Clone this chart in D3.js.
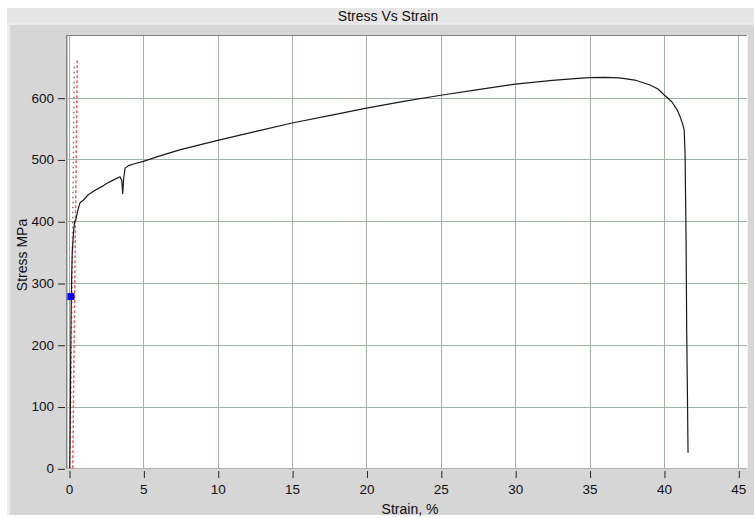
<!DOCTYPE html>
<html>
<head>
<meta charset="utf-8">
<script src="https://cdn.jsdelivr.net/npm/d3@7/dist/d3.min.js"></script>
<style>
  html, body { margin: 0; padding: 0; background: #fff; }
  svg { display: block; font-family: "Liberation Sans", Arial, sans-serif; }
</style>
</head>
<body>
<svg id="chart" width="754" height="518"></svg>
<script>
// ---- Data ----
const title = "Stress Vs Strain";
const xLabel = "Strain, %";
const yLabel = "Stress MPa";
const xTicks = [0, 5, 10, 15, 20, 25, 30, 35, 40, 45];
const yTicks = [0, 100, 200, 300, 400, 500, 600];

const strain = [0.05,0.08,0.10,0.12,0.15,0.18,0.22,0.30,0.37,0.45,0.60,0.74,0.96,1.30,1.75,2.20,2.53,3.00,3.43,3.55,3.61,3.68,3.77,4.00,4.40,5.0,6.0,7.5,10,12.5,15,17.5,20,22.5,25,27.5,30,32.5,34,35,36,37,38.05,39.06,39.6,39.97,40.53,40.9,41.09,41.25,41.36,41.42,41.49,41.53,41.58,41.62];
const stress = [0,60,130,200,260,310,350,380,399,402,418,430,434,443,450,456,461,467,472,466,445,470,486,490,493,497,505,516,531,545,559,571,583,594,604,613,622,628,631,632.5,633,632,628.6,620.5,614,605.5,593.5,580,569,558,548,510,369,224,119,25];

// elastic modulus line (gray dotted) and 0.2% offset line (red dashed)
const elasticStrain = [0.07, 0.36];
const elasticStress = [0, 655];
const offsetStrain = [0.25, 0.56];
const offsetStress = [0, 663];
// marker
const markerStrain = [0.13];
const markerStress = [278];

// ---- Layout ----
const svg = d3.select("#chart");
const plot = { left: 66, top: 35, right: 747, bottom: 468 };

const x = d3.scaleLinear().domain([0, 45]).range([69, 738.3]);
const y = d3.scaleLinear().domain([0, 600]).range([468.3, 97.7]);

// title band
svg.append("rect").attr("x", 7).attr("y", 8).attr("width", 747).attr("height", 15).attr("fill", "#e6e6e6");
svg.append("text").attr("x", 388).attr("y", 20.5).attr("text-anchor", "middle")
  .attr("font-size", 14).attr("fill", "#111").text(title);

// panel
svg.append("rect").attr("x", 7).attr("y", 23).attr("width", 747).attr("height", 492).attr("fill", "#ececec");
svg.append("rect").attr("x", 10).attr("y", 25).attr("width", 744).attr("height", 490).attr("fill", "#d6d6d6");

// plot area
svg.append("rect").attr("x", plot.left).attr("y", plot.top)
  .attr("width", plot.right - plot.left).attr("height", plot.bottom - plot.top)
  .attr("fill", "#fff");

// grid
const grid = svg.append("g").attr("stroke", "#a3b3a3").attr("stroke-width", 1);
grid.selectAll("line.v").data(xTicks).join("line")
  .attr("x1", d => Math.round(x(d)) + 0.5).attr("x2", d => Math.round(x(d)) + 0.5)
  .attr("y1", plot.top).attr("y2", plot.bottom);
grid.selectAll("line.h").data(yTicks).join("line")
  .attr("y1", d => Math.round(y(d)) + 0.5).attr("y2", d => Math.round(y(d)) + 0.5)
  .attr("x1", plot.left).attr("x2", plot.right);

// plot borders (inset look)
svg.append("line").attr("x1", plot.left + 0.5).attr("x2", plot.left + 0.5).attr("y1", plot.top).attr("y2", plot.bottom + 1).attr("stroke", "#808080");
svg.append("line").attr("x1", plot.left).attr("x2", plot.right).attr("y1", plot.top + 0.5).attr("y2", plot.top + 0.5).attr("stroke", "#808080");
svg.append("line").attr("x1", plot.left + 1.5).attr("x2", plot.left + 1.5).attr("y1", plot.top + 1).attr("y2", plot.bottom).attr("stroke", "#c8c8c8");
svg.append("line").attr("x1", plot.right + 0.5).attr("x2", plot.right + 0.5).attr("y1", plot.top).attr("y2", plot.bottom + 1).attr("stroke", "#f4f4f4");
svg.append("line").attr("x1", plot.left).attr("x2", plot.right).attr("y1", plot.bottom + 0.5).attr("y2", plot.bottom + 0.5).attr("stroke", "#b0b0b0");

// axes
const xAxis = svg.append("g").attr("transform", `translate(0,${plot.bottom + 3})`)
  .call(d3.axisBottom(x).tickValues(xTicks).tickSize(7).tickPadding(6).tickFormat(d3.format("d")));
xAxis.select(".domain").remove();
xAxis.selectAll(".tick line").attr("stroke", "#222").attr("transform", "translate(0.5,0)");
xAxis.selectAll(".tick text").attr("font-size", 13.5).attr("fill", "#111")
  .attr("font-family", "'Liberation Sans', Arial, sans-serif");

const yAxis = svg.append("g").attr("transform", `translate(${plot.left - 1},0)`)
  .call(d3.axisLeft(y).tickValues(yTicks).tickSize(7).tickPadding(4).tickFormat(d3.format("d")));
yAxis.select(".domain").remove();
yAxis.selectAll(".tick line").attr("stroke", "#222").attr("transform", "translate(0,0.5)");
yAxis.selectAll(".tick text").attr("font-size", 13.5).attr("fill", "#111")
  .attr("font-family", "'Liberation Sans', Arial, sans-serif");

// axis titles
svg.append("text").attr("x", 410).attr("y", 514).attr("text-anchor", "middle")
  .attr("font-size", 14).attr("fill", "#111").text(xLabel);
svg.append("text").attr("transform", "translate(27,255) rotate(-90)").attr("text-anchor", "middle")
  .attr("font-size", 14).attr("fill", "#111").text(yLabel);

// clip to plot
svg.append("clipPath").attr("id", "clip").append("rect")
  .attr("x", plot.left + 1).attr("y", plot.top + 1)
  .attr("width", plot.right - plot.left - 1).attr("height", plot.bottom - plot.top);
const g = svg.append("g").attr("clip-path", "url(#clip)");

const line = d3.line().x(d => x(d[0])).y(d => y(d[1]));

// elastic gray dotted
g.append("path").datum(d3.zip(elasticStrain, elasticStress)).attr("d", line)
  .attr("fill", "none").attr("stroke", "#7a7a7a").attr("stroke-width", 1.5).attr("stroke-dasharray", "1.5,3.5");

// offset red dashed
g.append("path").datum(d3.zip(offsetStrain, offsetStress)).attr("d", line)
  .attr("fill", "none").attr("stroke", "#ff5a5a").attr("stroke-width", 1.5).attr("stroke-dasharray", "3,2");

// main curve
g.append("path").datum(d3.zip(strain, stress)).attr("d", line)
  .attr("fill", "none").attr("stroke", "#1a1a1a").attr("stroke-width", 1.2).attr("stroke-linejoin", "round");

// marker
g.selectAll("rect.marker").data(d3.zip(markerStrain, markerStress)).join("rect")
  .attr("x", d => x(d[0]) - 3.5).attr("y", d => y(d[1]) - 3.5)
  .attr("width", 7).attr("height", 7).attr("fill", "#0000ff");
</script>
</body>
</html>
